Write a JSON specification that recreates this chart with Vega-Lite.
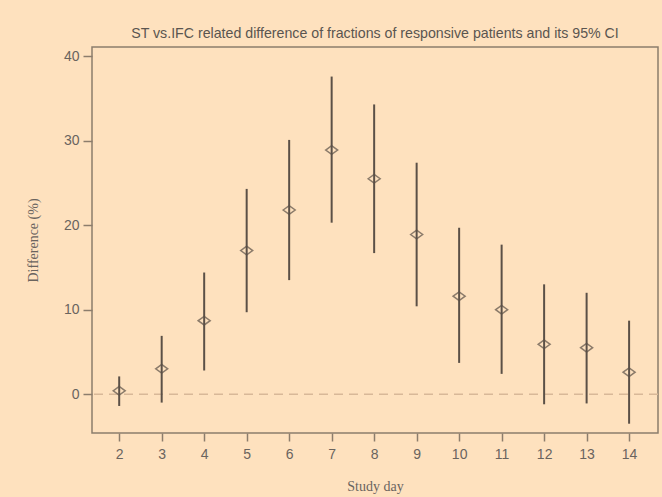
{
  "$schema": "https://vega.github.io/schema/vega-lite/v6.json",
  "width": 566,
  "height": 386,
  "autosize": {"type": "none"},
  "padding": {"left": 92, "top": 47, "right": 4, "bottom": 64},
  "background": "#FEE1BE",
  "title": {
    "text": "ST vs.IFC related difference of fractions of responsive patients and its 95% CI",
    "font": "Liberation Sans",
    "fontSize": 14.2,
    "fontWeight": "normal",
    "color": "#5a5550",
    "anchor": "middle",
    "offset": 6
  },
  "config": {
    "view": {"stroke": "#8c7d6c", "strokeWidth": 1.5, "fill": "#FEE1BE"},
    "axis": {
      "grid": false,
      "domain": false,
      "tickColor": "#8c7d6c",
      "tickWidth": 1.5,
      "labelFont": "Liberation Sans",
      "labelFontSize": 14,
      "labelColor": "#6a645e",
      "titleFont": "Liberation Serif",
      "titleFontSize": 14,
      "titleFontWeight": "normal",
      "titleColor": "#6a645e"
    }
  },
  "data": {
    "values": [
      {"day": 2, "diff": 0.4, "lo": -1.4, "hi": 2.1},
      {"day": 3, "diff": 3.0, "lo": -1.0, "hi": 6.9},
      {"day": 4, "diff": 8.7, "lo": 2.8, "hi": 14.4},
      {"day": 5, "diff": 17.0, "lo": 9.7, "hi": 24.3},
      {"day": 6, "diff": 21.8, "lo": 13.5, "hi": 30.1},
      {"day": 7, "diff": 28.9, "lo": 20.3, "hi": 37.6},
      {"day": 8, "diff": 25.5, "lo": 16.7, "hi": 34.3},
      {"day": 9, "diff": 18.9, "lo": 10.4, "hi": 27.4},
      {"day": 10, "diff": 11.6, "lo": 3.7, "hi": 19.7},
      {"day": 11, "diff": 10.0, "lo": 2.4, "hi": 17.7},
      {"day": 12, "diff": 5.9, "lo": -1.2, "hi": 13.0},
      {"day": 13, "diff": 5.5, "lo": -1.1, "hi": 12.0},
      {"day": 14, "diff": 2.6, "lo": -3.5, "hi": 8.7}
    ]
  },
  "encoding": {
    "x": {
      "field": "day",
      "type": "quantitative",
      "scale": {"domain": [1.36, 14.68], "nice": false, "zero": false},
      "axis": {
        "values": [2, 3, 4, 5, 6, 7, 8, 9, 10, 11, 12, 13, 14],
        "tickSize": 8,
        "labelPadding": 6,
        "title": "Study day",
        "titlePadding": 18
      }
    }
  },
  "layer": [
    {
      "data": {"values": [{"zero": 0}]},
      "mark": {"type": "rule", "stroke": "#d8b898", "strokeWidth": 1.5, "strokeDash": [9, 6]},
      "encoding": {
        "x": null,
        "y": {"field": "zero", "type": "quantitative"}
      }
    },
    {
      "mark": {"type": "rule", "stroke": "#5b5047", "strokeWidth": 2},
      "encoding": {
        "y": {
          "field": "lo",
          "type": "quantitative",
          "scale": {"domain": [-4.6, 41.1], "nice": false, "zero": false},
          "axis": {
            "values": [0, 10, 20, 30, 40],
            "tickSize": 9,
            "labelPadding": 4,
            "title": "Difference (%)",
            "titlePadding": 23
          }
        },
        "y2": {"field": "hi"}
      }
    },
    {
      "mark": {
        "type": "point",
        "shape": "M-1,0L0,-0.72L1,0L0,0.72Z",
        "filled": false,
        "stroke": "#5b5047",
        "strokeWidth": 1.5,
        "size": 144
      },
      "encoding": {
        "y": {"field": "diff", "type": "quantitative"}
      }
    }
  ]
}
